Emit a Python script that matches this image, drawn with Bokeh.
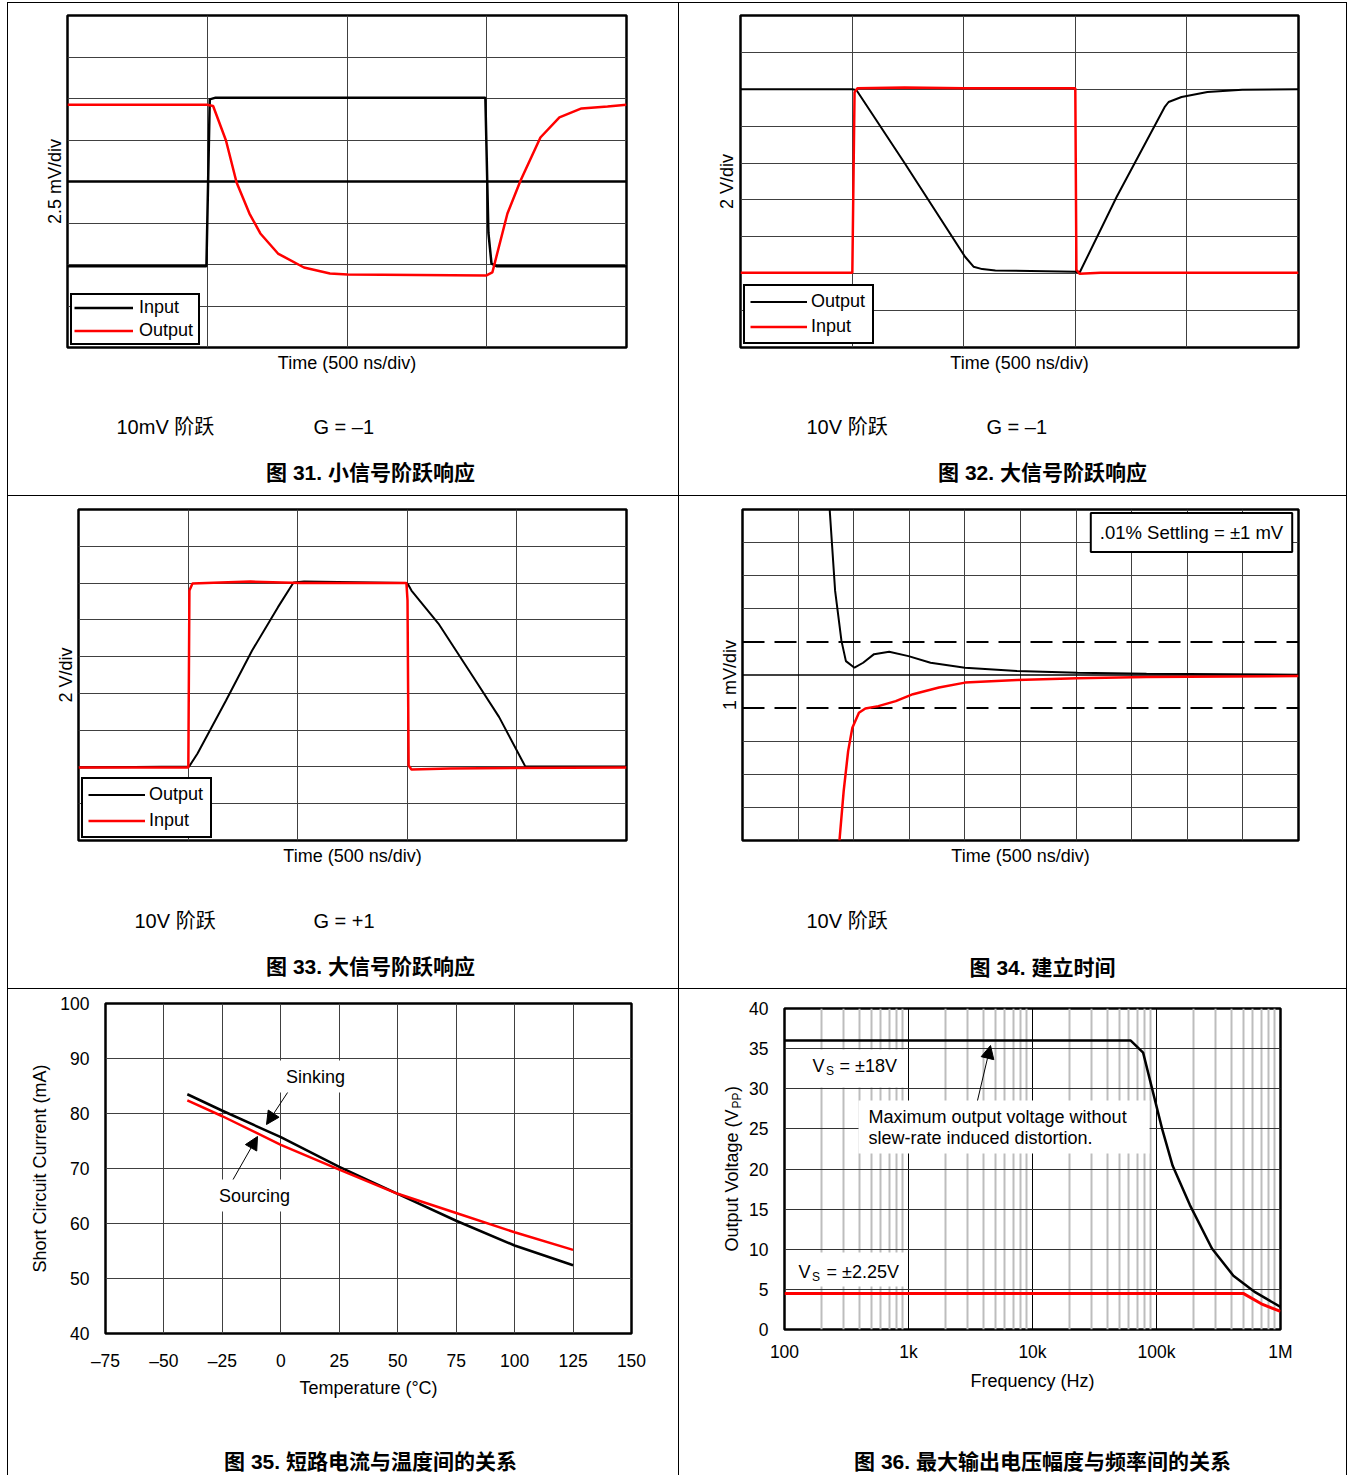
import math
from bokeh.plotting import figure
from bokeh.models import Range1d, FixedTicker, Span, Label, Arrow, NormalHead, BoxAnnotation
from bokeh.layouts import row, column
from bokeh.embed import file_html
from bokeh.resources import INLINE

# ------------------------------------------------------------------ data
# Fig 31: small-signal step (time in ns, mV)
f31_t_in = [0, 497, 509, 530, 1495, 1506, 1517, 1535, 2000]
f31_v_in = [-5.1, -5.1, 4.95, 5.05, 5.05, -3.1, -4.95, -5.1, -5.1]
f31_t_out = [0, 500, 521, 567, 605, 651, 690, 753, 846, 939, 1002, 1499, 1520, 1574, 1621, 1692, 1760, 1839, 1932, 2000]
f31_v_out = [4.62, 4.62, 4.55, 2.47, -0.06, -1.93, -3.13, -4.34, -5.18, -5.54, -5.6, -5.66, -5.48, -1.93, 0.06, 2.65, 3.86, 4.40, 4.52, 4.62]

# Fig 32: large-signal step, G = -1 (ns, V)
f32_t_out = [0, 502, 520, 735, 1006, 1044, 1083, 1142, 1501, 1519, 1685, 1900, 1918, 1976, 2092, 2248, 2500]
f32_v_out = [5.0, 5.0, 4.95, 1.0, -4.08, -4.62, -4.75, -4.82, -4.89, -4.95, -0.84, 4.03, 4.31, 4.58, 4.85, 4.98, 5.0]
f32_t_in = [0, 501, 511, 524, 735, 1000, 1500, 1505, 1519, 1613, 2500]
f32_v_in = [-4.95, -4.95, 4.84, 5.05, 5.1, 5.05, 5.05, -4.78, -5.0, -4.95, -4.95]

# Fig 33: large-signal step, G = +1 (ns, V)
f33_t_out = [0, 505, 543, 673, 792, 910, 981, 1029, 1496, 1504, 1519, 1642, 1820, 1919, 2038, 2500]
f33_v_out = [-5.03, -4.97, -4.27, -1.39, 1.33, 3.69, 5.03, 5.08, 5.0, 4.92, 4.59, 2.80, -0.46, -2.29, -4.97, -4.97]
f33_t_in = [0, 501, 506, 520, 648, 785, 1013, 1496, 1501, 1506, 1519, 1697, 2500]
f33_v_in = [-5.03, -5.03, 4.59, 4.97, 5.03, 5.08, 5.0, 5.0, 4.05, -4.92, -5.14, -5.08, -5.03]

# Fig 34: settling time (ns, mV)
f34_t_a = [780, 833, 890, 930, 1007, 1085, 1183, 1319, 1493, 1691, 2001, 2469, 3013, 3633, 5000]
f34_v_a = [5.2, 2.54, 1.03, 0.42, 0.22, 0.37, 0.63, 0.70, 0.57, 0.37, 0.22, 0.12, 0.07, 0.04, 0.01]
f34_t_b = [872, 910, 950, 988, 1047, 1105, 1222, 1378, 1533, 1767, 2001, 2469, 3013, 3633, 5000]
f34_v_b = [-5.0, -3.5, -2.3, -1.59, -1.14, -1.01, -0.94, -0.79, -0.58, -0.38, -0.23, -0.15, -0.10, -0.06, -0.03]

# Fig 35: short-circuit current vs temperature
f35_temp = [-40, -25, 0, 25, 50, 75, 100, 125]
f35_sink = [83.5, 80.5, 75.7, 70.3, 65.4, 60.5, 56.0, 52.4]
f35_source = [82.4, 79.5, 74.3, 69.8, 65.4, 61.9, 58.4, 55.2]
f35_xticks = [-75, -50, -25, 0, 25, 50, 75, 100, 125, 150]
f35_xlabels = ["\u201375", "\u201350", "\u201325", "0", "25", "50", "75", "100", "125", "150"]
f35_yticks = [40, 50, 60, 70, 80, 90, 100]

# Fig 36: max output voltage vs frequency
f36_f18 = [100, 62000, 78000, 111000, 135000, 186000, 280000, 417000, 624000, 1000000]
f36_v18 = [36, 36, 34.5, 25.0, 20.4, 15.5, 10.1, 6.7, 4.65, 2.8]
f36_f2 = [100, 500000, 700000, 1000000]
f36_v2 = [4.5, 4.5, 3.2, 2.25]
f36_xticks = [100, 1000, 10000, 100000, 1000000]
f36_xlabels = ["100", "1k", "10k", "100k", "1M"]
f36_yticks = [0, 5, 10, 15, 20, 25, 30, 35, 40]

# ------------------------------------------------------------------ helpers
LAT = "Liberation Sans"
MIX = "Liberation Sans, Noto Sans CJK SC"
GRID = "#404040"

G = {
    "f31": dict(x=8, y=3, w=670, h=392, l=67, r=626, t=15, b=347),
    "f32": dict(x=679, y=3, w=667, h=392, l=740, r=1298, t=15, b=347),
    "f33": dict(x=8, y=496, w=670, h=392, l=78, r=626, t=509, b=840),
    "f34": dict(x=679, y=496, w=667, h=392, l=742, r=1298, t=509, b=840),
    "f35": dict(x=8, y=989, w=670, h=411, l=105, r=631, t=1003, b=1333),
    "f36": dict(x=744, y=989, w=602, h=411, l=784, r=1280, t=1008, b=1329),
}


def make(key, xr, yr, xtype="linear"):
    g = G[key]
    p = figure(width=g["w"], height=g["h"], x_range=Range1d(*xr), y_range=Range1d(*yr),
               x_axis_type=xtype, output_backend="svg", toolbar_location=None,
               min_border_left=g["l"] - g["x"], min_border_right=g["x"] + g["w"] - g["r"],
               min_border_top=g["t"] - g["y"], min_border_bottom=g["y"] + g["h"] - g["b"])
    p.outline_line_color = "black"
    p.outline_line_width = 2.5
    p.border_fill_color = "white"
    p.background_fill_color = "white"
    for ax in p.axis:
        ax.major_tick_out = 0
        ax.major_tick_in = 0
        ax.minor_tick_out = 0
        ax.minor_tick_in = 0
        ax.axis_line_color = None
        ax.axis_label_text_font = LAT
        ax.axis_label_text_font_style = "normal"
        ax.axis_label_text_font_size = "18px"
        ax.axis_label_text_color = "black"
        ax.major_label_text_font = LAT
        ax.major_label_text_font_size = "17.5px"
        ax.major_label_text_color = "black"
    p.grid.grid_line_color = GRID
    p.grid.grid_line_width = 1
    p.grid.grid_line_alpha = 1
    p._geom = (g, xr, yr, xtype)
    return p


def blank(x, y, w, h, bl=0, br=0, bt=0, bb=0):
    """Text-only panel whose data coordinates equal page pixels."""
    p = figure(width=w, height=h, x_range=Range1d(x + bl, x + w - br), y_range=Range1d(y + h - bb, y + bt),
               output_backend="svg", toolbar_location=None, x_axis_location=None, y_axis_location=None,
               min_border_left=bl, min_border_right=br, min_border_top=bt, min_border_bottom=bb)
    p.grid.visible = False
    p.outline_line_color = None
    p.border_fill_color = None
    p.background_fill_color = None
    return p


def at(p, px, py):
    g, xr, yr, xtype = p._geom
    fx = (px - g["l"]) / (g["r"] - g["l"])
    fy = (g["b"] - py) / (g["b"] - g["t"])
    if xtype == "log":
        a, b = math.log10(xr[0]), math.log10(xr[1])
        x = 10 ** (a + fx * (b - a))
    else:
        x = xr[0] + fx * (xr[1] - xr[0])
    y = yr[0] + fy * (yr[1] - yr[0])
    return x, y


def text(p, x, y, s, size="18px", align="left", bold=False, font=LAT, angle=0, **kw):
    lb = Label(x=x, y=y, text=s, text_font=font, text_font_size=size, text_align=align,
               text_baseline="middle", text_font_style="bold" if bold else "normal",
               text_color="black", angle=angle, **kw)
    p.add_layout(lb)
    return lb


def lab(p, px, py, s, **kw):
    x, y = at(p, px, py)
    return text(p, x, y, s, **kw)


def scope(p, xdivs, ydivs, ylabel, ystand):
    p.xaxis.ticker = FixedTicker(ticks=[])
    p.yaxis.ticker = FixedTicker(ticks=[])
    p.xaxis.axis_label = "Time (500 ns/div)"
    p.xaxis.axis_label_standoff = 5
    p.yaxis.axis_label = ylabel
    p.yaxis.axis_label_standoff = ystand
    p.xgrid.ticker = FixedTicker(ticks=xdivs)
    p.ygrid.ticker = FixedTicker(ticks=ydivs)


def style_legend(p, loc, pad, h, sp, gw, stand, lw):
    lg = p.legend[0]
    lg.location = loc
    lg.margin = 0
    lg.padding = pad
    lg.spacing = sp
    lg.label_height = h
    lg.glyph_height = h
    lg.glyph_width = gw
    lg.label_standoff = stand
    lg.label_width = lw
    lg.label_text_font = LAT
    lg.label_text_font_size = "18px"
    lg.label_text_color = "black"
    lg.border_line_color = "black"
    lg.border_line_alpha = 1
    lg.border_line_width = 2
    lg.background_fill_color = "white"
    lg.background_fill_alpha = 1


def caption_panel(key, y, h, step, gain, row_y, cap_x, cap_y, cap):
    g = G[key]
    c = blank(g["x"], y, g["w"], h, bl=g["l"] - g["x"], br=g["x"] + g["w"] - g["r"])
    text(c, step[0], row_y, step[1], size="20px", font=MIX)
    if gain:
        text(c, gain[0], row_y, gain[1], size="20px", font=MIX)
    text(c, cap_x, cap_y, cap, size="21px", align="center", bold=True, font=MIX)
    return c


# ------------------------------------------------------------------ Fig 31
p31 = make("f31", (0, 2000), (-10, 10))
scope(p31, [500, 1000, 1500], [-7.5, -5, -2.5, 2.5, 5, 7.5], "2.5 mV/div", 3)
p31.add_layout(Span(location=0, dimension="width", line_color="black", line_width=2.5, level="underlay"))
p31.line(f31_t_in, f31_v_in, line_color="black", line_width=2.5, legend_label="Input")
p31.line(f31_t_out, f31_v_out, line_color="#ff0000", line_width=2.5, legend_label="Output")
style_legend(p31, (3, 2), 2, 19, 2, 59, 6, 57)
c31 = caption_panel("f31", 395, 100, (116, "10mV 阶跃"), (313, "G = \u20131"), 426, 370, 472,
                    "图 31. 小信号阶跃响应")

# ------------------------------------------------------------------ Fig 32
p32 = make("f32", (0, 2500), (-9, 9))
scope(p32, [500, 1000, 1500, 2000], [-7, -5, -3, -1, 1, 3, 5, 7], "2 V/div", 4)
p32.line(f32_t_out, f32_v_out, line_color="black", line_width=2, legend_label="Output")
p32.line(f32_t_in, f32_v_in, line_color="#ff0000", line_width=2.5, legend_label="Input")
style_legend(p32, (3, 3), 5, 19, 4, 57, 4, 56)
c32 = caption_panel("f32", 395, 100, (806, "10V 阶跃"), (986, "G = \u20131"), 426, 1042, 472,
                    "图 32. 大信号阶跃响应")

# ------------------------------------------------------------------ Fig 33
p33 = make("f33", (0, 2500), (-9, 9))
scope(p33, [500, 1000, 1500, 2000], [-7, -5, -3, -1, 1, 3, 5, 7], "2 V/div", 3)
p33.line(f33_t_out, f33_v_out, line_color="black", line_width=2, legend_label="Output")
p33.line(f33_t_in, f33_v_in, line_color="#ff0000", line_width=2.5, legend_label="Input")
style_legend(p33, (3, 2), 5, 19, 5, 57, 4, 56)
c33 = caption_panel("f33", 888, 100, (134, "10V 阶跃"), (313, "G = +1"), 920, 370, 966,
                    "图 33. 大信号阶跃响应")

# ------------------------------------------------------------------ Fig 34
p34 = make("f34", (0, 5000), (-5, 5))
scope(p34, [500 * i for i in range(1, 10)], [-4, -3, -2, 2, 3, 4], "1 mV/div", 3)
p34.add_layout(Span(location=0, dimension="width", line_color="black", line_width=1.5, level="underlay"))
for loc in (1, -1):
    p34.add_layout(Span(location=loc, dimension="width", line_color="black", line_width=2,
                        line_dash="22 10", level="underlay"))
p34.line(f34_t_a, f34_v_a, line_color="black", line_width=2)
p34.line(f34_t_b, f34_v_b, line_color="#ff0000", line_width=2.5)
lab(p34, 1191, 532, ".01% Settling = \u00b11 mV", size="18.5px", align="center",
    background_fill_color="white", border_line_color="black", border_line_width=2, padding=9)
c34 = caption_panel("f34", 888, 100, (806, "10V 阶跃"), None, 920, 1042, 967, "图 34. 建立时间")

# ------------------------------------------------------------------ Fig 35
p35 = make("f35", (-75, 150), (40, 100))
p35.xaxis.ticker = FixedTicker(ticks=f35_xticks)
p35.yaxis.ticker = FixedTicker(ticks=f35_yticks)
p35.xgrid.ticker = FixedTicker(ticks=f35_xticks)
p35.ygrid.ticker = FixedTicker(ticks=f35_yticks)
p35.xaxis.major_label_overrides = {k: v for k, v in zip(f35_xticks, f35_xlabels)}
p35.xaxis.major_label_standoff = 17
p35.yaxis.major_label_standoff = 16
p35.xaxis.axis_label = "Temperature (°C)"
p35.xaxis.axis_label_standoff = 4
p35.yaxis.axis_label = "Short Circuit Current (mA)"
p35.yaxis.axis_label_standoff = 7
p35.line(f35_temp, f35_sink, line_color="black", line_width=2.5)
p35.line(f35_temp, f35_source, line_color="#ff0000", line_width=2.5)
for (sx, sy, ex, ey) in [(293, 1083, 266, 1124), (232, 1180, 257, 1136)]:
    x0, y0 = at(p35, sx, sy)
    x1, y1 = at(p35, ex, ey)
    p35.add_layout(Arrow(x_start=x0, y_start=y0, x_end=x1, y_end=y1, line_color="black", line_width=1,
                         end=NormalHead(size=13, fill_color="black", line_color="black", line_width=1)))
lab(p35, 315, 1076, "Sinking", align="center", background_fill_color="white", padding=6)
lab(p35, 254, 1195, "Sourcing", align="center", background_fill_color="white", padding=6)
g35 = G["f35"]
c35 = blank(8, 1400, 670, 75, bl=g35["l"] - g35["x"], br=g35["x"] + g35["w"] - g35["r"])
text(c35, 370, 1461, "图 35. 短路电流与温度间的关系", size="21px", align="center", bold=True, font=MIX)

# ------------------------------------------------------------------ Fig 36
p36 = make("f36", (100, 1000000), (0, 40), xtype="log")
minor = [m * d for d in (100, 1000, 10000, 100000) for m in range(2, 10)]
p36.xaxis.ticker = FixedTicker(ticks=f36_xticks)
p36.yaxis.ticker = FixedTicker(ticks=f36_yticks)
p36.xgrid.ticker = FixedTicker(ticks=f36_xticks, minor_ticks=minor)
p36.ygrid.ticker = FixedTicker(ticks=f36_yticks)
p36.xgrid.grid_line_color = "black"
p36.ygrid.grid_line_color = "#333333"
p36.xgrid.minor_grid_line_color = "#bdbdbd"
p36.xgrid.minor_grid_line_width = 2
p36.xaxis.major_label_overrides = {k: v for k, v in zip(f36_xticks, f36_xlabels)}
p36.xaxis.major_label_standoff = 12
p36.yaxis.major_label_standoff = 16
p36.xaxis.axis_label = "Frequency (Hz)"
p36.xaxis.axis_label_standoff = 6

for (l, r, t, b) in [(802, 906, 1049, 1087), (858, 1149, 1100, 1153), (786, 906, 1252, 1286)]:
    x0, y0 = at(p36, l, b)
    x1, y1 = at(p36, r, t)
    p36.add_layout(BoxAnnotation(left=x0, right=x1, bottom=y0, top=y1, fill_color="white", fill_alpha=1,
                                 line_color=None, level="underlay"))

p36.line(f36_f18, f36_v18, line_color="black", line_width=2.5)
p36.line(f36_f2, f36_v2, line_color="#ff0000", line_width=3)

x0, y0 = at(p36, 977, 1100)
x1, y1 = at(p36, 990, 1045)
p36.add_layout(Arrow(x_start=x0, y_start=y0, x_end=x1, y_end=y1, line_color="black", line_width=1,
                     end=NormalHead(size=13, fill_color="black", line_color="black", line_width=1)))

lab(p36, 812, 1065, "V")
lab(p36, 825.5, 1070, "S", size="12px")
lab(p36, 839, 1065, "= \u00b118V")
lab(p36, 798, 1271, "V")
lab(p36, 811.5, 1276, "S", size="12px")
lab(p36, 826, 1271, "= \u00b12.25V")
lab(p36, 868, 1116, "Maximum output voltage without")
lab(p36, 868, 1137, "slew-rate induced distortion.")

# rotated y-axis label with subscript, in its own strip left of the plot
y36 = blank(679, 989, 65, 411, bt=19, bb=71)
text(y36, 731.5, 1109, "Output Voltage (V", align="right", angle=math.pi / 2)
text(y36, 736, 1108, "PP", size="12px", angle=math.pi / 2)
text(y36, 731.5, 1091.5, ")", angle=math.pi / 2)

c36 = blank(679, 1400, 667, 75)
text(c36, 1042, 1461, "图 36. 最大输出电压幅度与频率间的关系", size="21px", align="center", bold=True, font=MIX)

# ------------------------------------------------------------------ layout
WHITE = {"background-color": "white"}
layout = column(
    row(column(p31, c31, styles=WHITE), column(p32, c32, styles=WHITE), spacing=1),
    row(column(p33, c33, styles=WHITE), column(p34, c34, styles=WHITE), spacing=1),
    row(column(p35, c35, styles=WHITE), column(row(y36, p36, styles=WHITE), c36, styles=WHITE), spacing=1),
    spacing=1,
    styles={"background-color": "black", "padding": "1px 1px 0px 1px",
            "margin-left": "7px", "margin-top": "2px"},
)

open("out.html", "w").write(file_html(layout, INLINE, title="Charts"))
